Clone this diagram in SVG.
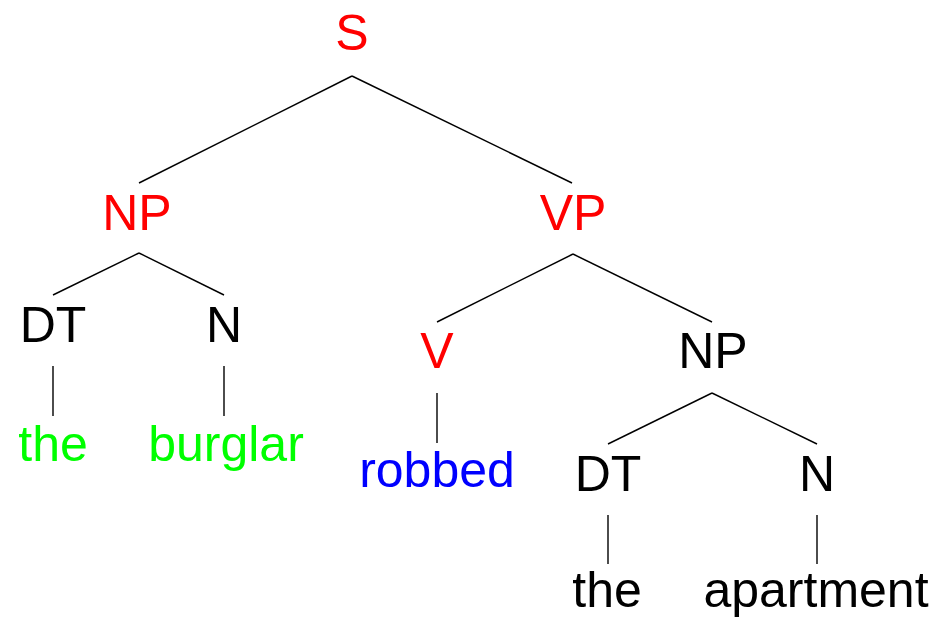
<svg xmlns="http://www.w3.org/2000/svg" width="945" height="620" viewBox="0 0 945 620">
<style>
text{font-family:"Liberation Sans",Arial,sans-serif;font-size:50px;text-anchor:middle}
.r{fill:#ff0000}.g{fill:#00ff00}.b{fill:#0000ff}.k{fill:#000000}
#edges line{stroke:#000;stroke-width:1.4;stroke-linecap:butt}
</style>
<rect width="945" height="620" fill="#fff"/>
<g id="edges">
<line x1="352" y1="76" x2="139" y2="183"/>
<line x1="352" y1="76" x2="572" y2="183"/>
<line x1="139" y1="253" x2="53" y2="295"/>
<line x1="139" y1="253" x2="224" y2="295"/>
<line x1="573" y1="254" x2="437" y2="322"/>
<line x1="573" y1="254" x2="712" y2="322"/>
<line x1="53" y1="366" x2="53" y2="416"/>
<line x1="224" y1="366" x2="224" y2="416"/>
<line x1="437" y1="393" x2="437" y2="443"/>
<line x1="712" y1="393" x2="608" y2="444"/>
<line x1="712" y1="393" x2="817" y2="444"/>
<line x1="608" y1="515" x2="608" y2="564"/>
<line x1="817" y1="515" x2="817" y2="564"/>
</g>
<g id="n-S"><text class="r" x="352" y="50">S</text></g>
<g id="n-NP1"><text class="r" x="137" y="230">NP</text></g>
<g id="n-VP"><text class="r" x="573" y="230">VP</text></g>
<g id="n-DT1"><text class="k" x="53" y="342">DT</text></g>
<g id="n-N1"><text class="k" x="224" y="342">N</text></g>
<g id="n-the1"><text class="g" x="53" y="461">the</text></g>
<g id="n-burglar"><text class="g" x="226" y="461">burglar</text></g>
<g id="n-V"><text class="r" x="437" y="368">V</text></g>
<g id="n-NP2"><text class="k" x="713" y="368">NP</text></g>
<g id="n-robbed"><text class="b" x="437" y="487">robbed</text></g>
<g id="n-DT2"><text class="k" x="608" y="491">DT</text></g>
<g id="n-N2"><text class="k" x="817" y="491">N</text></g>
<g id="n-the2"><text class="k" x="607" y="607">the</text></g>
<g id="n-apartment"><text class="k" x="816" y="607">apartment</text></g>
</svg>
